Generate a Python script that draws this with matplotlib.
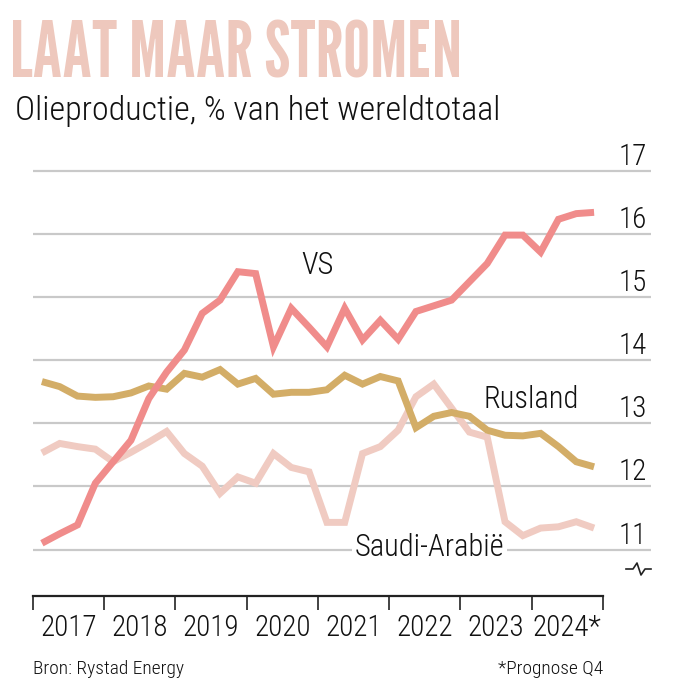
import numpy as np
import matplotlib
matplotlib.use("Agg")
import matplotlib.pyplot as plt
from matplotlib.lines import Line2D

plt.rcParams['font.family'] = ['Roboto Condensed', 'DejaVu Sans']
plt.rcParams['font.weight'] = 300
TITLE_FONT = ['League Gothic', 'Antonio', 'Oswald', 'DejaVu Sans']

# kwartalen 2017 K1 t/m 2024 K4 (midden van elk kwartaal)
kwartalen = np.arange(2017, 2025, 0.25) + 0.125
jaren = [2017, 2018, 2019, 2020, 2021, 2022, 2023, 2024]
jaar_labels = ["2017", "2018", "2019", "2020", "2021", "2022", "2023", "2024*"]
y_ticks = [11, 12, 13, 14, 15, 16, 17]

vs = [11.10, 11.25, 11.39, 12.05, 12.39, 12.73, 13.39, 13.81,
      14.16, 14.74, 14.95, 15.40, 15.37, 14.21, 14.82, 14.52,
      14.21, 14.82, 14.32, 14.63, 14.33, 14.77, 14.86, 14.95,
      15.24, 15.53, 15.98, 15.98, 15.71, 16.23, 16.32, 16.34]
rusland = [13.66, 13.58, 13.43, 13.41, 13.42, 13.48, 13.59, 13.54,
           13.79, 13.73, 13.85, 13.62, 13.71, 13.46, 13.49, 13.49,
           13.53, 13.76, 13.62, 13.74, 13.67, 12.93, 13.11, 13.17,
           13.11, 12.89, 12.81, 12.80, 12.84, 12.63, 12.39, 12.31]
saudi = [12.53, 12.68, 12.63, 12.59, 12.39, 12.54, 12.70, 12.87,
         12.52, 12.32, 11.89, 12.15, 12.05, 12.52, 12.30, 12.23,
         11.43, 11.43, 12.52, 12.63, 12.89, 13.42, 13.62, 13.24,
         12.86, 12.78, 11.44, 11.22, 11.34, 11.36, 11.44, 11.34]

C_VS = "#F08C8B"
C_RUS = "#D3AD67"
C_SAUDI = "#F0CBC2"
C_TITLE = "#EEC8BD"
C_GRID = "#C9C9C9"
C_TEXT = "#111111"

W, H = 679, 698
fig = plt.figure(figsize=(W / 100, H / 100), dpi=100)
ax = fig.add_axes([33 / W, (H - 596) / H, (651 - 33) / W, (596 - 165) / H])

line_kw = dict(lw=5, solid_capstyle="butt", solid_joinstyle="miter")
ax.plot(kwartalen, saudi, color=C_SAUDI, zorder=3, **line_kw)
ax.plot(kwartalen, rusland, color=C_RUS, zorder=4, **line_kw)
ax.plot(kwartalen, vs, color=C_VS, zorder=5, **line_kw)

ax.set_xlim(2017, 2025.674)
ax.set_ylim(10.264, 17.09)

for s in ["top", "left", "right"]:
    ax.spines[s].set_visible(False)
ax.spines["bottom"].set_bounds(2017, 2025)
ax.spines["bottom"].set_linewidth(1.6)
ax.spines["bottom"].set_color("#222222")

# x-as: streepjes op jaargrenzen, labels midden in het jaar
ax.set_xticks(jaren + [2025])
ax.set_xticklabels([])
ax.tick_params(axis="x", which="major", direction="out", length=10, width=1.2, color="#222222")
ax.set_xticks([j + 0.5 for j in jaren], minor=True)
ax.set_xticklabels(jaar_labels, minor=True, fontsize=21, color=C_TEXT)
ax.tick_params(axis="x", which="minor", length=0, pad=13)

# y-as: rasterlijnen met labels rechts erboven
ax.yaxis.tick_right()
ax.set_yticks(y_ticks)
ax.set_yticklabels([str(t) for t in y_ticks], fontsize=21, color=C_TEXT)
ax.tick_params(axis="y", length=0, pad=-3)
for lab in ax.get_yticklabels():
    lab.set_horizontalalignment("right")
    lab.set_verticalalignment("bottom")
ax.grid(axis="y", color=C_GRID, lw=1.6, zorder=1)
ax.set_axisbelow(True)

# reekslabels
ax.text(2020.99, 15.50, "VS", fontsize=22, ha="center", va="center", color=C_TEXT, zorder=6)
ax.text(2023.33, 13.37, "Rusland", fontsize=22, ha="left", va="center", color=C_TEXT, zorder=6)
ax.text(2022.56, 11.03, "Saudi-Arabië", fontsize=22, ha="center", va="center", color=C_TEXT, zorder=6,
        bbox=dict(facecolor="white", edgecolor="none", pad=2))

# as-onderbreking
zx = np.array([626, 633, 637, 641, 645, 651])
zy = np.array([569, 569, 563, 575, 569, 569])
fig.add_artist(Line2D(zx / W, 1 - zy / H, color="#222222", lw=1.2))

# titels en bron
fig.text(10 / W, 1 - 78 / H, "LAAT MAAR STROMEN", fontsize=55, color=C_TITLE, va="baseline",
         family=TITLE_FONT, weight="normal")
fig.text(15 / W, 1 - 120 / H, "Olieproductie, % van het wereldtotaal", fontsize=24.5, color=C_TEXT,
         va="baseline")
fig.text(33 / W, 1 - 674 / H, "Bron: Rystad Energy", fontsize=14, color=C_TEXT, va="baseline")
fig.text(603 / W, 1 - 674 / H, "*Prognose Q4", fontsize=14, color=C_TEXT, va="baseline", ha="right")

fig.savefig("out.png", dpi=100)
